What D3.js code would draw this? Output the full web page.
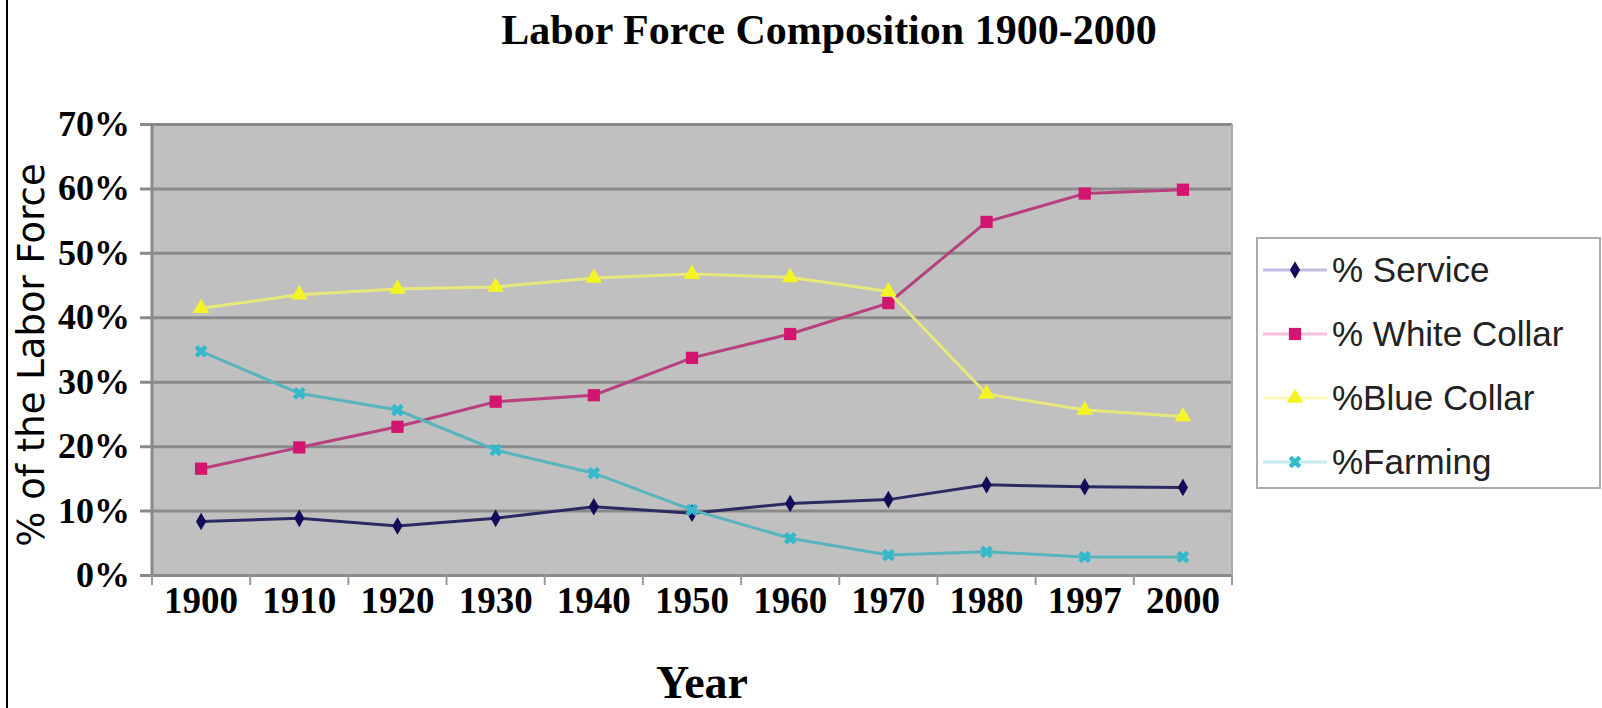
<!DOCTYPE html>
<html lang="en">
<head>
  <meta charset="UTF-8" />
  <title>Labor Force Composition 1900-2000</title>
  <style>
    html, body { margin:0; padding:0; background:#fff; }
    svg { display:block; }
    .serif { font-family:"Liberation Serif","Times New Roman",serif; font-weight:bold; fill:#000; }
  </style>
</head>
<body>
  <svg id="chart" width="1602" height="708"></svg>
  <script src="https://d3js.org/d3.v7.min.js"></script>
  <script>
  // Data (percent of labor force)
  const years = ["1900","1910","1920","1930","1940","1950","1960","1970","1980","1997","2000"];
  const service     = [8.3, 8.8, 7.6, 8.8, 10.6, 9.6, 11.1, 11.7, 14.0, 13.7, 13.6];
  const whiteCollar = [16.5, 19.8, 23.0, 26.9, 27.9, 33.7, 37.4, 42.2, 54.8, 59.2, 59.8];
  const blueCollar  = [41.4, 43.5, 44.4, 44.7, 46.1, 46.7, 46.2, 44.0, 28.1, 25.6, 24.6];
  const farming     = [34.7, 28.2, 25.6, 19.4, 15.8, 10.1, 5.7, 3.1, 3.6, 2.8, 2.8];
  const seriesNames = ["% Service", "% White Collar", "%Blue Collar", "%Farming"];
  const yTicks = [0, 10, 20, 30, 40, 50, 60, 70];

  // Series styling
  const series = [
    { name: seriesNames[0], values: service,     line:'#2c2a62', marker:'#120c5a', legendLine:'#c4bce4', sym:d3.symbolDiamond, size:90,  rot:0 },
    { name: seriesNames[1], values: whiteCollar, line:'#b8407e', marker:'#d4156f', legendLine:'#f8bede', sym:d3.symbolSquare,  size:150, rot:0 },
    { name: seriesNames[2], values: blueCollar,  line:'#e8e87a', marker:'#f4f424', legendLine:'#fbfbb8', sym:d3.symbolTriangle,size:120, rot:0 },
    { name: seriesNames[3], values: farming,     line:'#58b4bc', marker:'#34b8cc', legendLine:'#c6eaf2', sym:d3.symbolCross,   size:100, rot:45 }
  ];

  const svg = d3.select('#chart');
  const plot = { left:152, right:1232, top:124, bottom:575 };

  const x = d3.scaleBand().domain(years).range([plot.left, plot.right]);
  const y = d3.scaleLinear().domain([0, 70]).range([plot.bottom, plot.top]);

  // left frame line
  svg.append('line').attr('x1',7).attr('x2',7).attr('y1',0).attr('y2',708)
    .attr('stroke','#000').attr('stroke-width',2);

  // title
  svg.append('text').attr('class','serif')
    .attr('x', 829).attr('y', 44)
    .attr('text-anchor','middle').attr('font-size','42px')
    .text('Labor Force Composition 1900-2000');

  // plot background
  svg.append('rect')
    .attr('x', plot.left).attr('y', plot.top)
    .attr('width', plot.right - plot.left).attr('height', plot.bottom - plot.top)
    .attr('fill', '#c0c0c0');

  // y axis with gridlines
  const gx = 140;
  const yAxis = svg.append('g')
    .attr('transform', `translate(${gx},0)`)
    .call(d3.axisLeft(y).tickValues(yTicks).tickSize(-(plot.right - gx)).tickPadding(10).tickFormat(d => d + '%'));
  yAxis.select('.domain').remove();
  yAxis.selectAll('.tick line').attr('stroke','#8a8a8a').attr('stroke-width',3);
  yAxis.selectAll('.tick text')
    .attr('class','serif').attr('font-size','36px')
    .attr('dy','0.32em');

  // plot frame lines
  svg.append('line').attr('x1',plot.left).attr('x2',plot.left).attr('y1',plot.top).attr('y2',plot.bottom)
    .attr('stroke','#8a8a8a').attr('stroke-width',3);
  svg.append('line').attr('x1',plot.right).attr('x2',plot.right).attr('y1',plot.top).attr('y2',plot.bottom)
    .attr('stroke','#a8a8a8').attr('stroke-width',2);

  // x axis: labels centred in bands, ticks on band edges
  const xAxis = svg.append('g')
    .attr('transform', `translate(0,${plot.bottom})`)
    .call(d3.axisBottom(x).tickSize(0).tickPadding(38));
  xAxis.select('.domain').remove();
  xAxis.selectAll('.tick text').attr('class','serif').attr('font-size','37px').attr('dy','0');

  const edges = years.map(d => x(d)).concat([x.range()[1]]);
  svg.append('g').selectAll('line').data(edges).join('line')
    .attr('x1', d => d).attr('x2', d => d)
    .attr('y1', plot.bottom).attr('y2', plot.bottom + 10)
    .attr('stroke', '#9a9a9a').attr('stroke-width', 2);

  // axis titles
  svg.append('text').attr('class','serif')
    .attr('x', 702).attr('y', 698)
    .attr('text-anchor','middle').attr('font-size','46px')
    .text('Year');

  svg.append('text')
    .attr('transform', 'translate(44,355) rotate(-90)')
    .attr('text-anchor','middle')
    .attr('font-family','"DejaVu Sans", Verdana, sans-serif')
    .attr('font-size','37px').attr('fill','#000')
    .text('% of the Labor Force');

  // lines and markers
  const cx = d => x(d) + x.bandwidth() / 2;
  const line = d3.line().x((v, i) => cx(years[i])).y(v => y(v));

  series.forEach(s => {
    const g = svg.append('g');
    g.append('path')
      .attr('d', line(s.values))
      .attr('fill','none').attr('stroke', s.line).attr('stroke-width', 3);
    g.selectAll('path.m').data(s.values).join('path')
      .attr('class','m')
      .attr('d', d3.symbol().type(s.sym).size(s.size))
      .attr('transform', (v, i) => `translate(${cx(years[i])},${y(v)}) rotate(${s.rot})`)
      .attr('fill', s.marker);
  });

  // legend
  const lg = svg.append('g').attr('transform','translate(1257,238)');
  lg.append('rect').attr('width', 343).attr('height', 250)
    .attr('fill','#fff').attr('stroke','#ababab').attr('stroke-width',2);
  const rows = lg.selectAll('g.row').data(series).join('g')
    .attr('class','row')
    .attr('transform', (d, i) => `translate(0,${32 + i * 64})`);
  rows.append('line').attr('x1', 6).attr('x2', 70)
    .attr('stroke', d => d.legendLine).attr('stroke-width', 3);
  rows.append('path')
    .attr('d', d => d3.symbol().type(d.sym).size(d.size)())
    .attr('transform', d => `translate(38,0) rotate(${d.rot})`)
    .attr('fill', d => d.marker);
  rows.append('text')
    .attr('x', 75).attr('dy','0.35em')
    .attr('font-family','"Liberation Sans", Arial, sans-serif')
    .attr('font-size','35px').attr('fill','#222')
    .text(d => d.name);
  </script>
</body>
</html>
